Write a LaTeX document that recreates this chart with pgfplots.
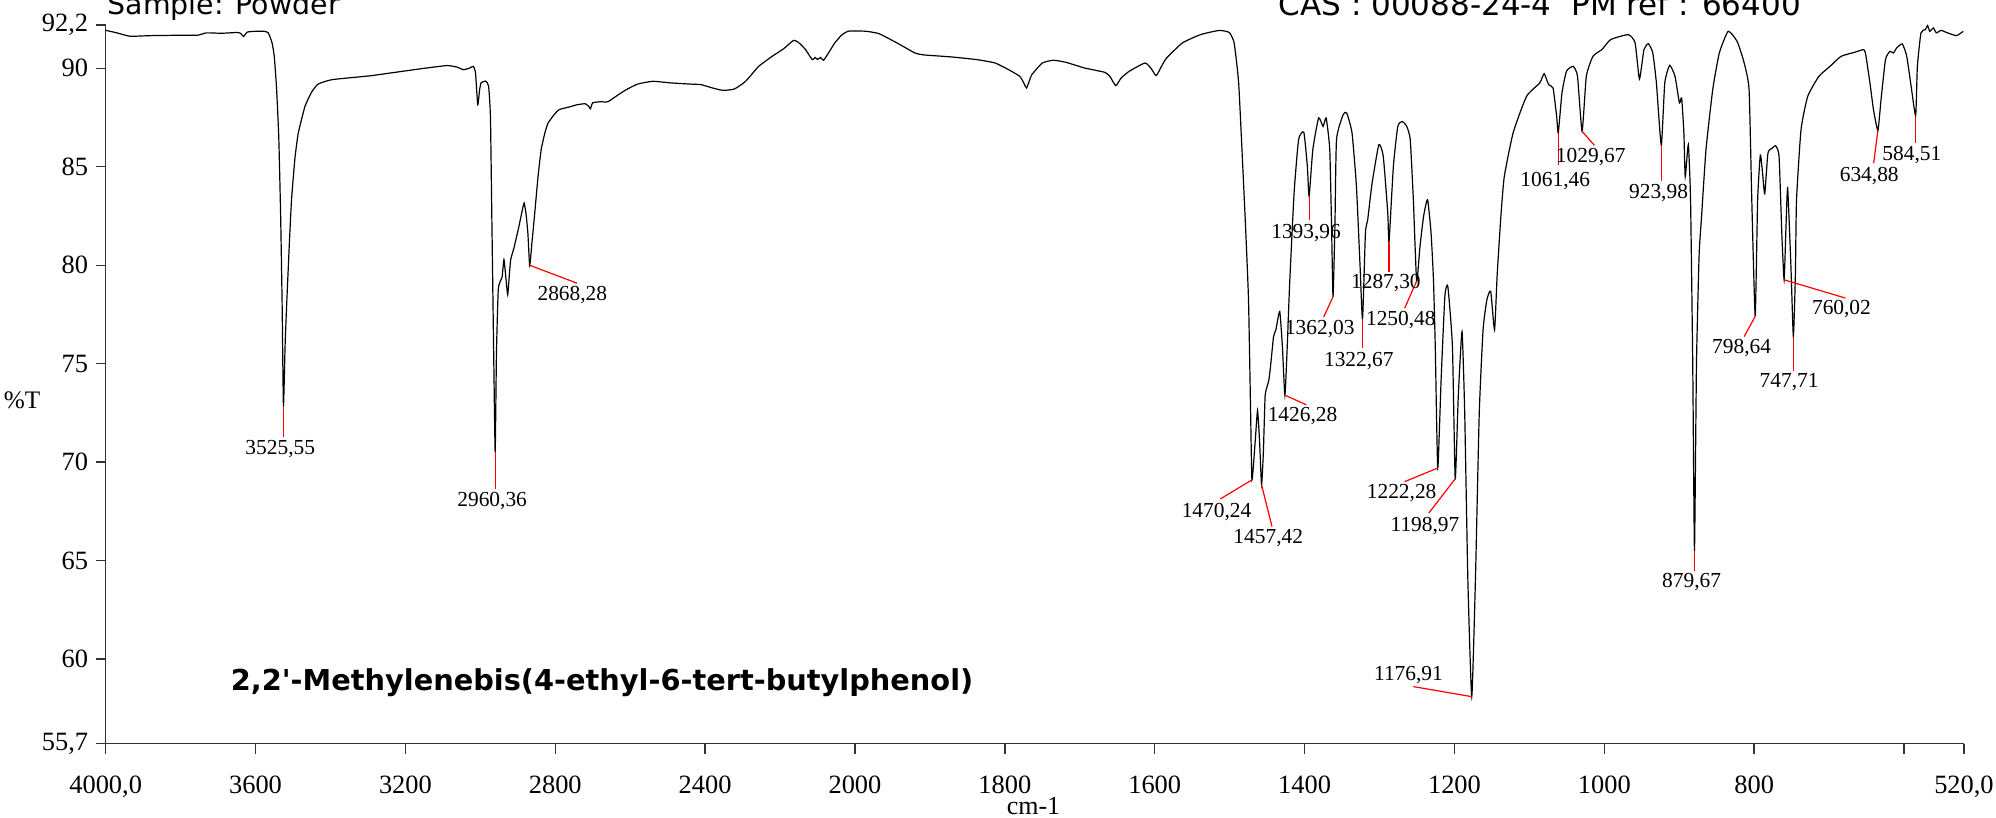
\documentclass[border=0pt]{standalone}
\usepackage{pgfplots}
\pgfplotsset{compat=1.18}
\usepackage{fontspec}
\setmainfont{Liberation Serif}
\newfontfamily\titlefont{DejaVu Sans}
\newcommand{\pk}{\fontsize{5.35pt}{6pt}\selectfont}
\begin{document}
\begin{tikzpicture}
\path[use as bounding box] (-26.425pt,-18.325pt) rectangle (472.575pt,185.925pt);
\begin{axis}[
  at={(0pt,0pt)}, anchor=south west,
  scale only axis, width=464.575pt, height=179.675pt,
  x coord trafo/.code={\pgfmathparse{#1>2000 ? 2000+(#1-2000)/2 : #1}},
  x coord inv trafo/.code={\pgfmathparse{#1>2000 ? 2000+2*(#1-2000) : #1}},
  x dir=reverse,
  xmin=520, xmax=4000, ymin=55.7, ymax=92.2,
  enlargelimits=false, clip=false,
  axis x line*=bottom, axis y line*=left,
  axis line style={black!80, line width=0.35pt},
  tick style={black!80, line width=0.35pt},
  tick align=outside, major tick length=2.5pt,
  xtick={4000,3600,3200,2800,2400,2000,1800,1600,1400,1200,1000,800,600,520},
  xticklabels={{4000,0},3600,3200,2800,2400,2000,1800,1600,1400,1200,1000,800,,{520,0}},
  ytick={55.7,60,65,70,75,80,85,90,92.2},
  yticklabels={{55,7},60,65,70,75,80,85,90,{92,2}},
  tick label style={font=\rmfamily\fontsize{6.6pt}{7pt}\selectfont},
  xticklabel style={anchor=base, yshift=-9.9pt},
  yticklabel style={anchor=east, inner sep=0pt, xshift=-1.7pt},
]
\addplot[black, line width=0.3pt, smooth, tension=0.3] table {
4000 91.93
3970 91.80
3935 91.63
3880 91.66
3800 91.68
3755 91.68
3731 91.80
3690 91.78
3650 91.82
3640 91.78
3632 91.62
3622 91.84
3600 91.88
3577 91.88
3566 91.80
3556 91.30
3550 90.60
3544 89.00
3538 86.50
3533 82.50
3529 78.00
3525.55 72.85
3521 76.00
3516 78.40
3510 81.00
3504 83.30
3495 85.40
3486 86.70
3468 88.07
3450 88.80
3433 89.20
3397 89.42
3326 89.56
3290 89.63
3207 89.85
3150 90.00
3088 90.14
3060 90.05
3046 89.93
3030 90.00
3019 90.10
3013 89.80
3007 88.15
3002 88.90
2998 89.26
2986 89.35
2978 89.10
2973 87.50
2969 82.00
2964 75.00
2960.36 70.50
2957 75.50
2952 78.80
2942 79.40
2937 80.28
2932 79.40
2927 78.50
2923 79.40
2919 80.28
2910 80.90
2897 81.97
2888 82.80
2883 83.16
2878 82.60
2873 81.60
2868.28 80.00
2862 81.20
2855.5 82.50
2846 84.50
2837.6 85.87
2828 86.70
2819.7 87.20
2805 87.60
2790 87.90
2760 88.05
2742 88.15
2720 88.20
2710 88.05
2706 87.95
2700 88.25
2680 88.30
2660 88.30
2640 88.55
2612 88.90
2580 89.20
2540 89.34
2492 89.26
2440 89.20
2411 89.17
2380 89.00
2352 88.88
2322 88.95
2292 89.34
2257 90.10
2221 90.61
2190 91.00
2164 91.42
2150 91.30
2132 90.95
2114 90.44
2106 90.55
2100 90.45
2092 90.55
2084 90.41
2070 90.80
2054 91.29
2035 91.70
2019 91.88
2000 91.90
1985 91.88
1968 91.76
1944 91.29
1920 90.78
1908 90.68
1872 90.58
1837 90.44
1813 90.27
1795 89.93
1780 89.59
1774 89.20
1771 89.00
1767 89.40
1764 89.68
1750 90.27
1735 90.41
1718 90.30
1694 90.02
1667 89.80
1660 89.60
1652 89.12
1645 89.50
1634 89.85
1613 90.27
1605 90.00
1598 89.63
1591 90.10
1584 90.53
1563 91.29
1539 91.71
1515 91.92
1505 91.88
1500 91.80
1494 91.29
1488 89.26
1482.5 85.02
1478.4 81.63
1474.8 78.20
1472 72.49
1470.24 69.10
1466 71.00
1462.8 72.62
1460 71.00
1457.42 68.85
1455 70.50
1452.7 73.33
1450 73.84
1447.6 74.18
1445 75.03
1441.4 76.38
1438.3 76.72
1433.2 77.65
1429.6 75.87
1426.28 73.40
1423 76.00
1420 79.00
1414 83.67
1408 86.38
1401 86.75
1396.3 85.02
1393.96 83.50
1389 85.87
1381.3 87.48
1375.3 87.05
1371.2 87.48
1366.4 85.87
1364 82.00
1362.03 78.40
1359.5 82.00
1357.4 86.38
1348.5 87.65
1343.8 87.73
1336.7 86.72
1330.8 84.00
1326 80.00
1322.67 77.25
1318.8 81.63
1315.8 82.30
1309.9 84.17
1300.9 86.12
1295 85.53
1289 82.65
1287.3 81.20
1281.5 85.02
1275.6 87.05
1269.7 87.30
1263.7 87.05
1259 86.38
1254.8 83.30
1250.48 79.20
1246 80.95
1241.2 82.48
1235.9 83.33
1231.2 81.63
1228 79.26
1225.6 75.87
1222.28 69.70
1217.8 74.18
1212.8 78.41
1208.8 78.92
1202.7 75.87
1198.97 69.15
1194.9 73.33
1189.9 76.63
1186.3 72.49
1182.1 64.02
1176.91 58.09
1172 64.02
1166.9 72.49
1161.8 76.72
1156.7 78.25
1151.6 78.67
1146.5 76.72
1143 79.50
1138 82.50
1133.5 84.50
1121.7 86.72
1103.9 88.57
1086.1 89.26
1080.3 89.73
1074.3 89.17
1068.4 89.00
1063.6 87.56
1061.46 86.72
1056.5 88.75
1050.5 89.85
1041.6 90.10
1035.8 89.60
1029.67 86.80
1024 89.59
1015.2 90.61
1003.3 90.95
991.5 91.46
967.9 91.71
958.9 91.29
953.1 89.46
947.1 90.95
941.2 91.25
935.3 90.78
930.5 89.26
923.98 86.10
919.3 89.26
912.8 90.15
905.7 89.60
899.7 88.24
896.8 88.50
893.8 86.72
892 84.50
887.9 86.12
884.9 83.30
882 75.00
879.67 65.50
877 75.00
873.5 80.50
870.2 82.48
864.3 85.87
855.3 88.92
846.5 90.78
834.7 91.88
822.8 91.37
813.9 90.35
806.8 88.92
803.2 83.33
798.64 77.40
795.4 83.30
791.8 85.60
788.8 84.68
785.9 83.63
781.6 85.70
775.7 85.95
771.6 86.07
766.8 85.53
763 81.50
760.02 79.26
757.5 82.00
755.3 83.92
751 80.00
747.71 76.38
745 79.50
743.5 83.30
737.5 86.88
728.6 88.57
713.7 89.59
698.8 90.10
684 90.61
666.3 90.81
654.4 90.95
651.5 90.78
645.5 89.26
640.8 87.90
634.88 86.85
630.7 88.41
624.8 90.44
618.9 90.86
614.1 90.78
610 91.03
602.3 91.24
596.4 90.61
590.5 89.08
584.51 87.60
582.2 90.10
577.4 91.80
571.5 91.97
568.6 92.17
565.6 91.88
560.9 92.05
556.8 91.80
550.8 91.93
541.9 91.80
530 91.66
521 91.88
};
% peak leaders
\begin{scope}[red, line width=0.3pt]
\draw (axis cs:3525.55,72.85) -- (axis cs:3525.55,71.28);
\draw (axis cs:2960.36,70.5) -- (axis cs:2960.36,68.64);
\draw (axis cs:2868.28,80.0) -- (axis cs:2742.1,79.09);
\draw (axis cs:1470.24,69.1) -- (axis cs:1512.4,68.13);
\draw (axis cs:1457.42,68.85) -- (axis cs:1443.5,66.73);
\draw (axis cs:1426.28,73.4) -- (axis cs:1397.6,72.91);
\draw (axis cs:1393.96,83.5) -- (axis cs:1393.96,82.31);
\draw (axis cs:1362.03,78.4) -- (axis cs:1374.5,77.37);
\draw (axis cs:1322.67,77.25) -- (axis cs:1322.67,75.79);
\draw (axis cs:1287.30,81.2) -- (axis cs:1287.30,79.68);
\draw (axis cs:1250.48,79.2) -- (axis cs:1266.4,77.82);
\draw (axis cs:1222.28,69.7) -- (axis cs:1266.4,69.01);
\draw (axis cs:1198.97,69.15) -- (axis cs:1234.3,67.41);
\draw (axis cs:1176.91,58.09) -- (axis cs:1254.7,58.6);
\draw (axis cs:1061.46,86.72) -- (axis cs:1061.46,85.09);
\draw (axis cs:1029.67,86.8) -- (axis cs:1013.3,86.09);
\draw (axis cs:923.98,86.1) -- (axis cs:923.98,84.26);
\draw (axis cs:879.67,65.5) -- (axis cs:879.67,64.49);
\draw (axis cs:798.64,77.4) -- (axis cs:813.3,76.38);
\draw (axis cs:760.02,79.26) -- (axis cs:678.1,78.33);
\draw (axis cs:747.71,76.38) -- (axis cs:747.71,74.65);
\draw (axis cs:634.88,86.85) -- (axis cs:640.5,85.19);
\draw (axis cs:584.51,87.6) -- (axis cs:584.51,86.21);
\end{scope}
\begin{scope}[every node/.style={font=\pk, inner sep=0pt}]
\node at (axis cs:3534,70.67) {3525,55};
\node at (axis cs:2968.5,68.03) {2960,36};
\node at (axis cs:2754.4,78.48) {2868,28};
\node at (axis cs:1517.5,67.49) {1470,24};
\node at (axis cs:1448.5,66.14) {1457,42};
\node at (axis cs:1402.7,72.32) {1426,28};
\node at (axis cs:1398,81.63) {1393,96};
\node at (axis cs:1379.7,76.76) {1362,03};
\node at (axis cs:1327.6,75.15) {1322,67};
\node at (axis cs:1291.5,79.09) {1287,30};
\node at (axis cs:1271.5,77.23) {1250,48};
\node at (axis cs:1270.5,68.42) {1222,28};
\node at (axis cs:1239.3,66.76) {1198,97};
\node at (axis cs:1261.3,59.19) {1176,91};
\node at (axis cs:1065.5,84.29) {1061,46};
\node at (axis cs:1018.1,85.48) {1029,67};
\node at (axis cs:927.6,83.67) {923,98};
\node at (axis cs:883.5,63.93) {879,67};
\node at (axis cs:816.8,75.79) {798,64};
\node at (axis cs:683.5,77.77) {760,02};
\node at (axis cs:753.3,74.04) {747,71};
\node at (axis cs:646.4,84.55) {634,88};
\node at (axis cs:589.5,85.61) {584,51};
\end{scope}
\end{axis}
\node[anchor=base west, inner sep=0pt, font=\titlefont\fontsize{7.1pt}{8pt}\selectfont] at (0.3pt,182.2pt) {Sample: Powder};
\node[anchor=base west, inner sep=0pt, font=\titlefont\fontsize{7.75pt}{8pt}\selectfont] at (293.1pt,182.0pt) {CAS : 00088-24-4\ \ PM ref : 66400};
\node[anchor=base west, inner sep=0pt, font=\titlefont\bfseries\fontsize{7.2pt}{8pt}\selectfont] at (31.1pt,13.2pt) {2,2'-Methylenebis(4-ethyl-6-tert-butylphenol)};
\node[anchor=base, inner sep=0pt, font=\fontsize{6.3pt}{7pt}\selectfont] at (-20.9pt,83.7pt) {\%T};
\node[anchor=base, inner sep=0pt, font=\fontsize{6.5pt}{7pt}\selectfont] at (231.95pt,-17.6pt) {cm-1};
\end{tikzpicture}
\end{document}
